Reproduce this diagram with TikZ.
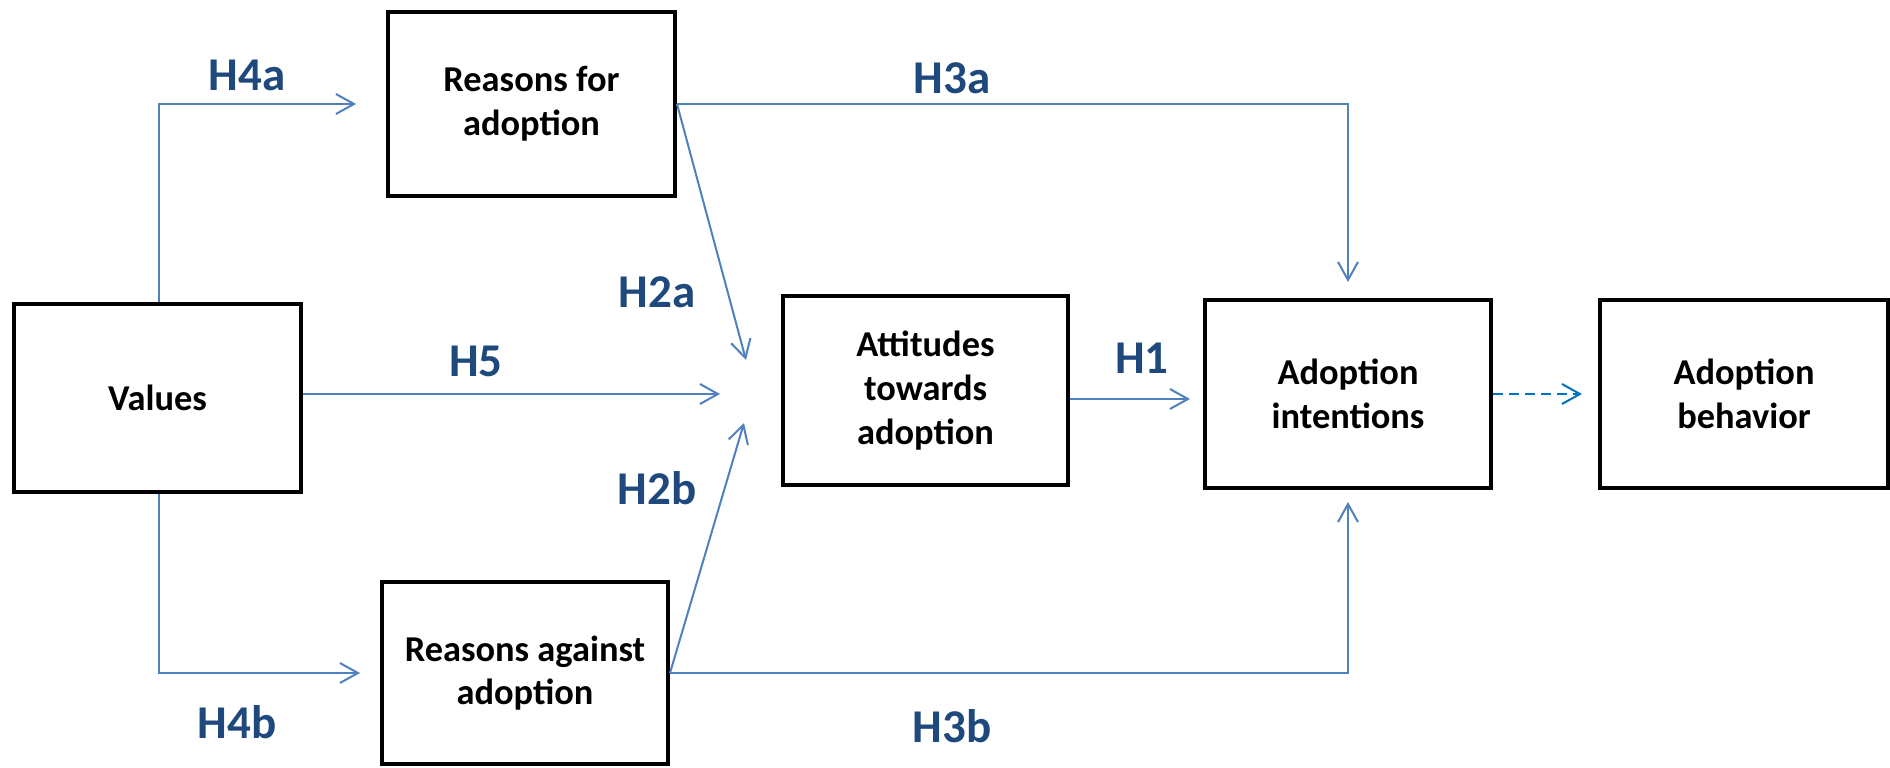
\documentclass[tikz,border=0pt]{standalone}
\usepackage{fontspec}
\setmainfont{Carlito}
\usetikzlibrary{arrows.meta}
\definecolor{hypblue}{HTML}{1F497D}
\definecolor{linkblue}{HTML}{4F81BD}
\definecolor{dashblue}{HTML}{0070C0}
\tikzset{%
  bloc/.style={draw, line width=2pt, fill=white, align=center, inner sep=0pt, minimum width=143pt, minimum height=94pt, font=\fontsize{18.2}{21.8}\selectfont\bfseries},
  line/.style={draw, line width=1pt, color=linkblue, -{Straight Barb[length=9pt,width=10pt]}},
  linepart/.style={line, color=dashblue, dash pattern=on 5pt off 3pt},
  hyp/.style={text=hypblue, inner sep=0pt, font=\fontsize{23.5}{27}\selectfont\bfseries},
}

\begin{document}
\begin{tikzpicture}[x=0.5pt, y=0.5pt]
  \useasboundingbox (0,0) rectangle (1890,767);

  % constructs
  \node (vals) [bloc, minimum width=143.5pt] at (157.5,369) {Values};
  \node (rfor) [bloc, minimum width=143.5pt, minimum height=92pt] at (531.5,663) {Reasons for\\adoption};
  \node (ragainst) [bloc, minimum height=91pt] at (525,94) {Reasons against\\adoption};
  \node (att) [bloc, minimum width=142.5pt] at (925.5,376.5) {Attitudes\\towards\\adoption};
  \node (aint) [bloc] at (1348,373) {Adoption\\intentions};
  \node (abeh) [bloc, minimum width=144pt] at (1744,373) {Adoption\\behavior};

  \coordinate (vx) at (159,0);
  \coordinate (hub) at (720,373);
  \coordinate (h2aend) at (746,407);
  \coordinate (h2bend) at (744,344);
  \coordinate (h1end) at (1190,368);

  % hypotheses
  \path [line, shorten >=15pt] (vals.north -| vx) |- (rfor.west);
  \path [line, shorten >=10pt] (vals.south -| vx) |- (ragainst.west);
  \path [line] (vals.east |- hub) -- (hub);
  \path [line] (rfor.east) -- (h2aend);
  \path [line] (ragainst.east) -- (h2bend);
  \path [line, shorten >=8pt] (rfor.east) -| (aint.north);
  \path [line, shorten >=6pt] (ragainst.east) -| (aint.south);
  \path [line] (att.east |- h1end) -- (h1end);
  \path [linepart, shorten >=8pt] (aint.east) -- (abeh.west);

  \node (lh4a) [hyp] at (247,692) {H4a};
  \node (lh4b) [hyp] at (237,45) {H4b};
  \node (lh5) [hyp] at (476,406) {H5};
  \node (lh2a) [hyp] at (657,475) {H2a};
  \node (lh2b) [hyp] at (657,279) {H2b};
  \node (lh3a) [hyp] at (952,689) {H3a};
  \node (lh3b) [hyp] at (952,41) {H3b};
  \node (lh1) [hyp] at (1142,409) {H1};
\end{tikzpicture}
\end{document}
